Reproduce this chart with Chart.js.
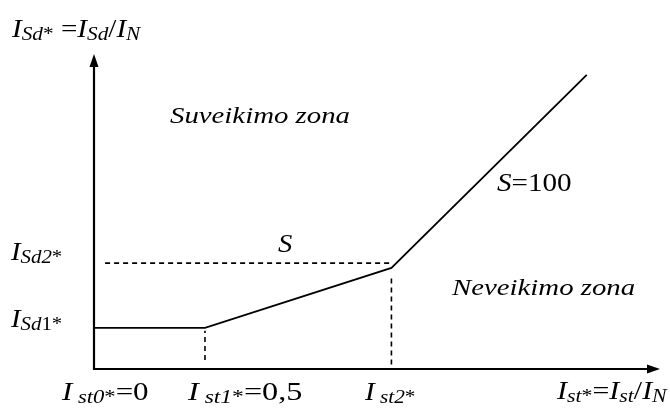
<!DOCTYPE html>
<html>
<head>
<meta charset="utf-8">
<script src="https://cdn.jsdelivr.net/npm/chart.js@4.4.1/dist/chart.umd.min.js"></script>
<style>
  html, body { margin: 0; padding: 0; background: #fff; }
  canvas { display: block; }
</style>
</head>
<body>
<canvas id="charChart" width="670" height="411"></canvas>
<script>
// relative stabilising current I_st* at the break points
const stBreaks = [0, 0.5, 1.34, 2.22];
// relative differential current I_Sd* on the characteristic
const sdCurve = [0.185, 0.185, 0.455, 1.325];
// I_Sd2* reference level (dashed)
const sd2Level = 0.477;
const sd2Span = [0.05, 1.34];
// vertical guides under I_st1* and I_st2*
const st1Guide = [0.04, 0.172];
const st2Guide = [0.02, 0.41];
const xMax = 2.55;
const yMax = 1.405;

const FONT = '"Liberation Serif", "Times New Roman", serif';

// draws one label made of runs (big letters, subscripts), stretched a bit in x
function richText(ctx, x, y, runs, sx) {
  ctx.save();
  ctx.translate(x, y);
  ctx.scale(sx || 1.1, 1);
  ctx.textBaseline = "alphabetic";
  ctx.fillStyle = "#000";
  let cx = 0;
  runs.forEach(r => {
    ctx.font = (r.it ? "italic " : "") + r.size + "px " + FONT;
    ctx.fillText(r.t, cx, r.dy || 0);
    cx += ctx.measureText(r.t).width;
  });
  ctx.restore();
}

const big = (t, it) => ({ t: t, size: 26, it: it !== false });
const sub = (t, it) => ({ t: t, size: 19, it: it !== false, dy: 3 });

const axesAndLabels = {
  id: "axesAndLabels",
  afterDatasetsDraw(chart) {
    const ctx = chart.ctx;
    const xs = chart.scales.x, ys = chart.scales.y;
    const x0 = xs.getPixelForValue(0), y0 = ys.getPixelForValue(0);
    const xEnd = xs.getPixelForValue(xMax), yEnd = ys.getPixelForValue(yMax);

    ctx.save();
    ctx.strokeStyle = "#000";
    ctx.fillStyle = "#000";
    ctx.lineWidth = 2.2;
    ctx.beginPath();
    ctx.moveTo(x0, yEnd + 8);
    ctx.lineTo(x0, y0);
    ctx.lineTo(xEnd - 8, y0);
    ctx.stroke();
    // arrow heads
    ctx.beginPath();
    ctx.moveTo(x0, yEnd - 3);
    ctx.lineTo(x0 - 4.5, yEnd + 10);
    ctx.lineTo(x0 + 4.5, yEnd + 10);
    ctx.closePath();
    ctx.fill();
    ctx.beginPath();
    ctx.moveTo(xEnd, y0);
    ctx.lineTo(xEnd - 13, y0 - 4.5);
    ctx.lineTo(xEnd - 13, y0 + 4.5);
    ctx.closePath();
    ctx.fill();
    ctx.restore();

    // axis titles
    richText(ctx, 12, 37, [big("I"), sub("Sd"), sub("*", false), big(" =", false), big("I"), sub("Sd"), big("/", false), big("I"), sub("N")], 1.12);
    richText(ctx, 557, 399, [big("I"), sub("st"), sub("*", false), big("=", false), big("I"), sub("st"), big("/", false), big("I"), sub("N")], 1.15);

    // y levels
    richText(ctx, 11, 260, [big("I"), sub("Sd2"), sub("*", false)]);
    richText(ctx, 11, 327, [big("I"), sub("Sd"), sub("1", false), sub("*", false)]);

    // x break points
    richText(ctx, 62, 400, [big("I"), sub(" st0"), sub("*", false), big("=0", false)], 1.19);
    richText(ctx, 188, 400, [big("I"), sub(" st1"), sub("*", false), big("=0,5", false)], 1.24);
    richText(ctx, 365, 400, [big("I"), sub(" st2"), sub("*", false)], 1.12);

    // zones and slopes
    richText(ctx, 170, 123, [{ t: "Suveikimo zona", size: 24, it: true }], 1.2);
    richText(ctx, 452, 295, [{ t: "Neveikimo zona", size: 24, it: true }], 1.2);
    richText(ctx, 278, 252, [{ t: "S", size: 26, it: true }], 1.1);
    richText(ctx, 497, 191, [{ t: "S", size: 26, it: true }, { t: "=100", size: 26 }], 1.12);
  }
};

const lineSet = (pts, dashed, width) => ({
  data: pts,
  showLine: true,
  borderColor: "#000",
  borderWidth: width,
  borderDash: dashed ? [5, 4] : [],
  pointRadius: 0,
  tension: 0
});

new Chart(document.getElementById("charChart"), {
  type: "scatter",
  data: {
    datasets: [
      lineSet(stBreaks.map((x, i) => ({ x: x, y: sdCurve[i] })), false, 1.8),
      lineSet([{ x: sd2Span[0], y: sd2Level }, { x: sd2Span[1], y: sd2Level }], true, 1.6),
      lineSet([{ x: stBreaks[1], y: st1Guide[0] }, { x: stBreaks[1], y: st1Guide[1] }], true, 1.6),
      lineSet([{ x: stBreaks[2], y: st2Guide[0] }, { x: stBreaks[2], y: st2Guide[1] }], true, 1.6)
    ]
  },
  options: {
    responsive: false,
    animation: false,
    layout: { padding: { left: 94, right: 10, top: 57, bottom: 42 } },
    scales: {
      x: { type: "linear", min: 0, max: xMax, display: false },
      y: { type: "linear", min: 0, max: yMax, display: false }
    },
    plugins: { legend: { display: false }, tooltip: { enabled: false } }
  },
  plugins: [axesAndLabels]
});
</script>
</body>
</html>
